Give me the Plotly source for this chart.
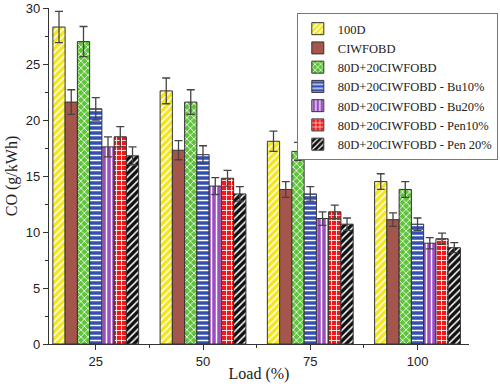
import plotly.graph_objects as go

loads = ["25", "50", "75", "100"]
series_names = ["100D", "CIWFOBD", "80D+20CIWFOBD", "80D+20CIWFOBD - Bu10%",
                "80D+20CIWFOBD - Bu20%", "80D+20CIWFOBD - Pen10%", "80D+20CIWFOBD - Pen 20%"]
v_100D = [28.3, 22.6, 18.1, 14.5]
v_CIWFOBD = [21.6, 17.3, 13.8, 11.1]
v_blend = [27.0, 21.6, 17.2, 13.8]
v_bu10 = [21.0, 16.9, 13.4, 10.7]
v_bu20 = [17.6, 14.1, 11.2, 9.0]
v_pen10 = [18.5, 14.8, 11.8, 9.4]
v_pen20 = [16.8, 13.4, 10.7, 8.6]
e_100D = [1.4, 1.15, 0.9, 0.7]
e_CIWFOBD = [1.1, 0.85, 0.7, 0.6]
e_blend = [1.35, 1.1, 0.8, 0.7]
e_bu10 = [1.0, 0.8, 0.65, 0.55]
e_bu20 = [0.9, 0.75, 0.6, 0.5]
e_pen10 = [0.9, 0.7, 0.6, 0.5]
e_pen20 = [0.8, 0.65, 0.55, 0.45]

values = [v_100D, v_CIWFOBD, v_blend, v_bu10, v_bu20, v_pen10, v_pen20]
errors = [e_100D, e_CIWFOBD, e_blend, e_bu10, e_bu20, e_pen10, e_pen20]
colors = ["#f5e61a", "#a5564c", "#5ec43a", "#3450b0", "#9a4cc0", "#f01818", "#111111"]
shapes = ["/", "", "x", "-", "|", "+", "/"]

x = list(range(len(loads)))
fig = go.Figure()
for name, vals, errs, col, shp in zip(series_names, values, errors, colors, shapes):
    marker = dict(color=col, line=dict(color="#333333", width=1))
    if shp:
        marker["pattern"] = dict(shape=shp, fgcolor="white", bgcolor=col, size=5,
                                 solidity=0.3, fillmode="replace")
    fig.add_trace(go.Bar(
        x=x, y=vals, name=name, marker=marker,
        error_y=dict(type="data", array=errs, color="#444444", thickness=1.3, width=4),
    ))

fig.update_layout(
    width=500, height=384,
    margin=dict(l=49, r=2, t=8, b=40),
    barmode="group", bargap=0.2, bargroupgap=0,
    plot_bgcolor="white", paper_bgcolor="white",
    font=dict(family="Liberation Sans, Arial", size=13, color="#222"),
    legend=dict(x=0.59, y=0.985, xanchor="left", yanchor="top",
                bgcolor="white", bordercolor="#777", borderwidth=1,
                font=dict(family="Liberation Serif, Times New Roman", size=12.5),
                tracegroupgap=0, itemwidth=30),
)
fig.update_xaxes(
    tickmode="array", tickvals=x, ticktext=loads, range=[-0.436, 3.48],
    showline=True, linecolor="#333", linewidth=1.2, ticks="outside", ticklen=5,
    tickcolor="#333", showgrid=False, zeroline=False, automargin=False,
    minor=dict(tickvals=[0.5, 1.5, 2.5], ticks="outside", ticklen=3, tickcolor="#333"),
    title=dict(text="Load (%)", font=dict(family="Liberation Serif, Times New Roman", size=16), standoff=0),
)
fig.update_yaxes(
    range=[0, 30], dtick=5, showline=True, linecolor="#333", linewidth=1.2,
    ticks="outside", ticklen=5, tickcolor="#333", showgrid=False, zeroline=False,
    automargin=False,
    minor=dict(dtick=2.5, ticks="outside", ticklen=3, tickcolor="#333"),
    title=dict(text="CO (g/kWh)", font=dict(family="Liberation Serif, Times New Roman", size=16), standoff=4),
)
fig.write_html("out.html", config={"displayModeBar": False},
               post_script="document.body.style.margin='0';")
